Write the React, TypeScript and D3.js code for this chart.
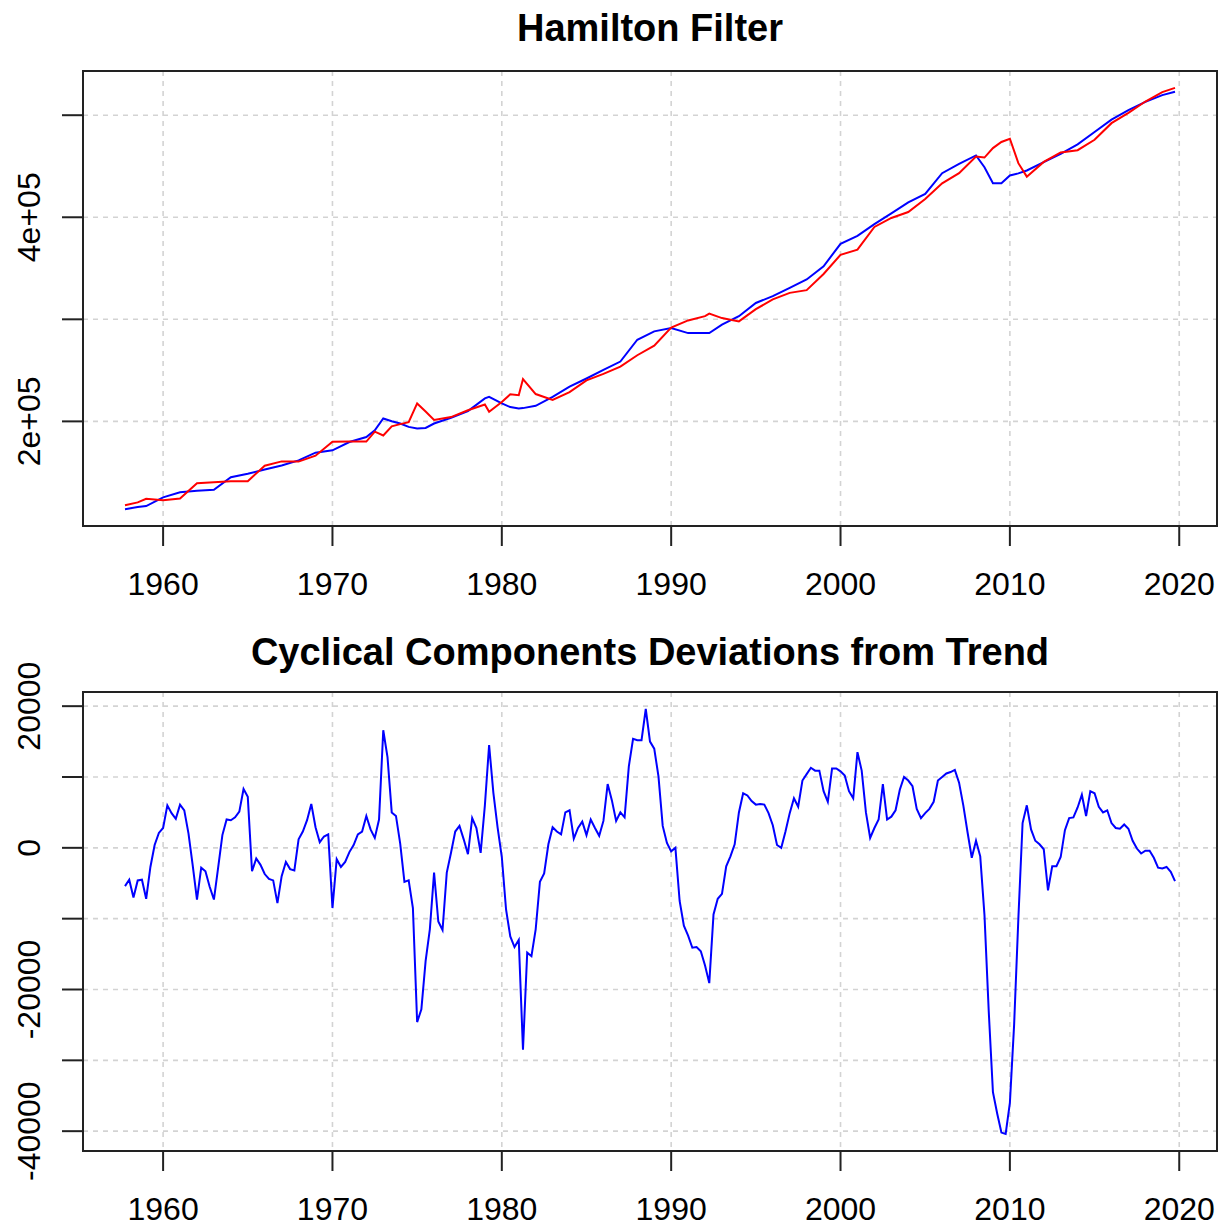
import { scaleLinear, line, extent } from 'd3';

// quarterly cyclical component (thousands), starting 1957 Q4
const cycleStart = 1957.75;
const cycle = [
  -5.4, -4.5, -7.0, -4.6, -4.5, -7.2, -2.7, 0.4, 2.1, 2.8,
  6.0, 4.9, 4.1, 6.1, 5.3, 2.0, -2.5, -7.3, -2.8, -3.3,
  -5.5, -7.3, -2.8, 1.8, 4.0, 3.9, 4.3, 5.1, 8.3, 7.2,
  -3.3, -1.5, -2.4, -3.7, -4.4, -4.6, -7.8, -4.0, -2.0, -3.0,
  -3.2, 1.2, 2.3, 3.9, 6.2, 2.9, 0.8, 1.6, 1.9, -8.5,
  -1.6, -2.7, -2.0, -0.6, 0.4, 1.9, 2.3, 4.5, 2.6, 1.4,
  4.0, 16.6, 12.8, 5.0, 4.5, 0.6, -4.8, -4.6, -8.5, -24.6,
  -22.8, -16.0, -11.5, -3.5, -10.4, -11.6, -3.5, -0.7, 2.3, 3.1,
  1.2, -0.9, 4.2, 2.8, -0.7, 6.0, 14.5, 7.8, 2.9, -1.3,
  -8.7, -12.5, -14.0, -13.0, -28.5, -14.8, -15.3, -11.5, -4.8, -3.6,
  0.5, 2.9, 2.3, 1.9, 5.0, 5.3, 1.3, 2.8, 3.7, 1.8,
  4.0, 2.8, 1.7, 3.8, 9.0, 6.7, 3.8, 5.0, 4.3, 11.5,
  15.4, 15.2, 15.2, 19.6, 15.0, 14.0, 10.1, 3.1, 0.7, -0.5,
  0.0, -7.5, -11.0, -12.4, -14.1, -14.0, -14.6, -16.6, -19.1, -9.4,
  -7.2, -6.5, -2.6, -1.2, 0.5, 5.0, 7.7, 7.4, 6.6, 6.1,
  6.2, 6.1, 4.9, 3.2, 0.4, 0.0, 2.3, 4.9, 7.0, 5.8,
  9.5, 10.4, 11.3, 10.9, 10.9, 8.0, 6.5, 11.2, 11.2, 10.8,
  10.2, 8.0, 7.0, 13.5, 10.9, 5.0, 1.4, 2.8, 4.0, 9.0,
  4.0, 4.4, 5.3, 8.2, 10.0, 9.5, 8.7, 5.5, 4.2, 4.9,
  5.5, 6.5, 9.5, 10.0, 10.5, 10.7, 11.0, 9.2, 6.0, 2.2,
  -1.4, 1.0, -1.2, -9.5, -23.0, -34.5, -37.5, -40.2, -40.4, -36.0,
  -25.0, -10.0, 3.5, 6.0, 2.6, 1.0, 0.5, -0.2, -6.0, -2.6,
  -2.6, -1.3, 2.5, 4.2, 4.3, 5.7, 7.5, 4.5, 8.0, 7.7,
  5.8, 5.0, 5.3, 3.5, 2.8, 2.7, 3.3, 2.7, 1.0, -0.1,
  -0.8, -0.4, -0.4, -1.4, -2.8, -2.9, -2.7, -3.4, -4.7,
];

// top panel series (thousands)
const topYears = [
  1957.75, 1958.5, 1959, 1960, 1961, 1962, 1963, 1964, 1965, 1966,
  1967, 1968, 1969, 1970, 1971, 1972, 1972.5, 1973, 1973.5, 1974,
  1974.5, 1975, 1975.5, 1976, 1977, 1978, 1979, 1979.25, 1980, 1980.5,
  1981, 1981.25, 1982, 1983, 1984, 1985, 1986, 1987, 1988, 1989,
  1990, 1991, 1992, 1992.25, 1993, 1994, 1995, 1996, 1997, 1998,
  1999, 2000, 2001, 2002, 2003, 2004, 2005, 2006, 2007, 2008,
  2008.5, 2009, 2009.5, 2010, 2010.5, 2011, 2012, 2013, 2014, 2015,
  2016, 2017, 2018, 2019, 2019.75,
];
const actual = [
  114, 116, 117, 125.6, 130.5, 132, 133, 145.3, 148.6, 152.9,
  156.8, 161.8, 169.3, 171.6, 179.8, 184.7, 191.3, 202.8, 200.2, 197.9,
  194.6, 193, 193.6, 197.9, 203.5, 210, 222.5, 224, 217.6, 214,
  212.7, 213, 215.3, 224, 234, 242, 250.4, 258.6, 280, 288.2,
  291.5, 286.5, 286.5, 286.5, 294.7, 303, 316, 322.7, 330.8, 339,
  352, 374, 381.8, 393.3, 403.8, 414.6, 422.8, 443.2, 452.4, 460.6,
  449, 433.3, 433.3, 440.9, 443, 445.8, 454, 462.2, 471.4, 483.6,
  495.7, 505, 513, 519.7, 523,
];
const trend = [
  117.9, 120.6, 124.2, 122.8, 124.4, 139.3, 140.3, 141.4, 141.4, 156.6,
  160.8, 160.6, 166.4, 180.1, 180.4, 180.2, 189.9, 186.2, 195.2, 197.3,
  199.2, 217.6, 209.6, 201.4, 204.2, 210.9, 216.5, 209.5, 218.9, 226.5,
  225.7, 241.5, 226.8, 221.1, 228.7, 240.2, 246.6, 253.6, 264.8, 274.2,
  292, 298.9, 303.1, 305.6, 301.2, 298, 309.9, 319.5, 325.9, 328.6,
  344.4, 363.2, 368.3, 390.5, 399.3, 405.1, 417.9, 433.2, 443.2, 459.6,
  458.5, 467.8, 473.8, 476.9, 453, 439.8, 454.2, 463.5, 465.7, 475.9,
  492.2, 502.3, 513.4, 522.6, 526.8,
];

const xTicks = [1960, 1970, 1980, 1990, 2000, 2010, 2020];
const topTicks = [200, 300, 400, 500];
const topLabels = [200, 400];
const cycTicks = [-40, -30, -20, -10, 0, 10, 20];
const cycLabels = [-40, -20, 0, 20];

const W = 1228;
const H = 1232;
const left = 83;
const right = 1217;
const font = '"Liberation Sans", Arial, sans-serif';

const pad = ([a, b]: number[]) => [a - (b - a) * 0.04, b + (b - a) * 0.04];

type Series = { xs: number[]; ys: number[]; color: string };

function Panel({ title, titleY, top, bottom, yDomain, ticks, labels, fmt, series }: {
  title: string; titleY: number; top: number; bottom: number; yDomain: number[];
  ticks: number[]; labels: number[]; fmt: (v: number) => string; series: Series[];
}) {
  const x = scaleLinear().domain(pad([cycleStart, cycleStart + (cycle.length - 1) / 4])).range([left, right]);
  const y = scaleLinear().domain(yDomain).range([bottom, top]);
  const path = (s: Series) =>
    line<number>().x((_, i) => x(s.xs[i])).y(d => y(d))(s.ys) || '';
  return (
    <g>
      <text x={(left + right) / 2} y={titleY} textAnchor='middle' fontFamily={font}
        fontWeight='bold' fontSize={38}>{title}</text>
      {xTicks.map(t => (
        <line key={'gx' + t} x1={x(t)} x2={x(t)} y1={top} y2={bottom}
          stroke='#d3d3d3' strokeWidth={1.6} strokeDasharray='5 5' />
      ))}
      {ticks.map(t => (
        <line key={'gy' + t} x1={left} x2={right} y1={y(t)} y2={y(t)}
          stroke='#d3d3d3' strokeWidth={1.6} strokeDasharray='5 5' />
      ))}
      {series.map((s, i) => (
        <path key={i} d={path(s)} fill='none' stroke={s.color} strokeWidth={2} />
      ))}
      <rect x={left} y={top} width={right - left} height={bottom - top}
        fill='none' stroke='#222' strokeWidth={2} />
      {/* x axis */}
      <line x1={x(xTicks[0])} x2={x(xTicks[xTicks.length - 1])} y1={bottom} y2={bottom} stroke='#222' strokeWidth={2} />
      {xTicks.map(t => (
        <g key={'tx' + t} transform={`translate(${x(t)},${bottom})`}>
          <line y2={20} stroke='#222' strokeWidth={2} />
          <text y={69} textAnchor='middle' fontFamily={font} fontSize={32}>{t}</text>
        </g>
      ))}
      {/* y axis */}
      {ticks.map(t => (
        <g key={'ty' + t} transform={`translate(${left},${y(t)})`}>
          <line x2={-21} stroke='#222' strokeWidth={2} />
          {labels.includes(t) && (
            <text transform='translate(-43,0) rotate(-90)' textAnchor='middle'
              fontFamily={font} fontSize={32}>{fmt(t)}</text>
          )}
        </g>
      ))}
    </g>
  );
}

function App() {
  const cycYears = cycle.map((_, i) => cycleStart + i / 4);
  const topDomain = pad(extent([...actual, ...trend]) as number[]);
  const cycDomain = pad(extent(cycle) as number[]);
  return (
    <svg width={W} height={H} style={{ position: 'absolute', left: 0, top: 0, background: '#fff' }}>
      <rect width={W} height={H} fill='#fff' />
      <Panel title='Hamilton Filter' titleY={41} top={71} bottom={526}
        yDomain={topDomain} ticks={topTicks} labels={topLabels}
        fmt={v => `${v / 100}e+05`}
        series={[
          { xs: topYears, ys: actual, color: '#0000ff' },
          { xs: topYears, ys: trend, color: '#ff0000' },
        ]} />
      <Panel title='Cyclical Components Deviations from Trend' titleY={665} top={692} bottom={1151}
        yDomain={cycDomain} ticks={cycTicks} labels={cycLabels}
        fmt={v => `${v * 1000}`}
        series={[{ xs: cycYears, ys: cycle, color: '#0000ff' }]} />
    </svg>
  );
}

export default App;
